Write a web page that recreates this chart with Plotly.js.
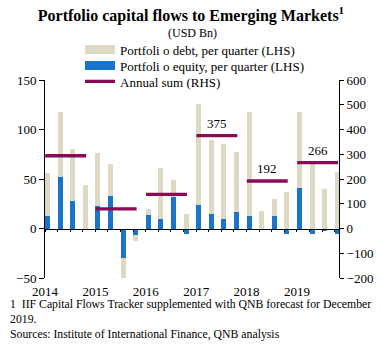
<!DOCTYPE html>
<html><head><meta charset="utf-8">
<script src="https://cdn.plot.ly/plotly-3.0.1.min.js"></script>
<style>html,body{margin:0;padding:0;background:#fff;}</style>
</head><body><div id="chart" style="width:382px;height:355px;"></div>
<script>
// ---- data (USD Bn) ----
const years = [2014, 2015, 2016, 2017, 2018, 2019];
const quartersPerYear = 4;
const equity = [13, 52, 28, -2, 23, 33, -30, -7, 14, 9.5, 32, -6, 24, 15, 10, 17, 13, -1, 12.5, -6, 41, -6, -2.5, -6];
const debt = [43, 66, 52, 44, 53, 32, -20, -6, 6, 52, 17, 14.5, 101.5, 74, 75, 60, 104.5, 18, 17.5, 37, 77, 65, 40, 57];
const annualSum = [294, 79, 138, 375, 192, 266];
const labelledYears = [2017, 2018, 2019];
const seriesNames = ['Portfoli o debt, per quarter (LHS)', 'Portfoli o equity, per quarter (LHS)', 'Annual sum (RHS)'];

// ---- styling ----
const FONT = '"Liberation Serif", "Times New Roman", serif';
const C_DEBT = '#ddd9c4', C_EQ = '#1a74c8', C_SUM = '#8a0a55';
const BAR_OFFSET = 0.2, BAR_W = 0.4, X_RANGE = [0, 23.34];
const LINE_START = 0.02, LINE_END = 3.27;

const nQ = years.length * quartersPerYear;
const qIdx = Array.from({length: nQ}, (_, i) => i);
const barX = qIdx.map(i => i + BAR_OFFSET);

const sumX = [], sumY = [];
years.forEach((y, k) => {
  sumX.push(k * quartersPerYear + LINE_START, k * quartersPerYear + LINE_END, null);
  sumY.push(annualSum[k], annualSum[k], null);
});

const traces = [
  {type: 'bar', x: barX, y: equity, width: BAR_W, marker: {color: C_EQ}, showlegend: false, name: seriesNames[1], hoverinfo: 'y'},
  {type: 'bar', x: barX, y: debt, width: BAR_W, marker: {color: C_DEBT}, showlegend: false, name: seriesNames[0], hoverinfo: 'y'},
  {type: 'scatter', mode: 'lines', x: sumX, y: sumY, xaxis: 'x2', yaxis: 'y2', line: {color: C_SUM, width: 3.3}, name: seriesNames[2], legend: 'legend3', connectgaps: false},
  {type: 'scatter', mode: 'lines', x: [null], y: [null], line: {color: C_DEBT, width: 9}, name: seriesNames[0], legend: 'legend'},
  {type: 'scatter', mode: 'lines', x: [null], y: [null], line: {color: C_EQ, width: 9}, name: seriesNames[1], legend: 'legend2'}
];

const noteFont = {family: FONT, size: 11.75, color: '#000'};
const annotations = [
  {text: '(USD Bn)', xref: 'paper', yref: 'paper', x: 0.5, y: 1.237, xanchor: 'center', yanchor: 'middle', showarrow: false, font: {family: FONT, size: 12, color: '#000'}},
  {text: '1  IIF Capital Flows Tracker supplemented with QNB forecast for December', xref: 'paper', yref: 'paper', x: -0.126, y: -0.135, xanchor: 'left', yanchor: 'middle', showarrow: false, font: noteFont},
  {text: '2019.', xref: 'paper', yref: 'paper', x: -0.126, y: -0.211, xanchor: 'left', yanchor: 'middle', showarrow: false, font: noteFont},
  {text: 'Sources: Institute of International Finance, QNB analysis', xref: 'paper', yref: 'paper', x: -0.126, y: -0.287, xanchor: 'left', yanchor: 'middle', showarrow: false, font: noteFont}
];
years.forEach((y, k) => {
  if (labelledYears.includes(y)) {
    annotations.push({text: String(annualSum[k]), xref: 'x2', yref: 'y2',
      x: k * quartersPerYear + (LINE_START + LINE_END) / 2, y: annualSum[k], yshift: 12,
      showarrow: false, font: {family: FONT, size: 13, color: '#000'}});
  }
});

const legendBase = {xref: 'container', yref: 'container', x: 80 / 382, xanchor: 'left', yanchor: 'top', bgcolor: 'rgba(0,0,0,0)', borderwidth: 0, itemwidth: 30, font: {family: FONT, size: 13, color: '#000'}};
const axisFont = {family: FONT, size: 13, color: '#000'};
const layout = {
  width: 382, height: 355,
  margin: {l: 45, r: 43, t: 80, b: 77, pad: 0, autoexpand: false},
  paper_bgcolor: '#fff', plot_bgcolor: 'rgba(0,0,0,0)',
  barmode: 'relative', bargap: 0,
  showlegend: true,
  font: {family: FONT, color: '#000'},
  title: {text: '<b>Portfolio capital flows to Emerging Markets<sup>1</sup></b>', x: 0.5, xref: 'container', xanchor: 'center', y: 1 - 15 / 355, yref: 'container', yanchor: 'middle', font: {family: FONT, size: 16, color: '#000'}},
  legend: Object.assign({}, legendBase, {y: 1 - 34.5 / 355}),
  legend2: Object.assign({}, legendBase, {y: 1 - 50.5 / 355}),
  legend3: Object.assign({}, legendBase, {y: 1 - 66.5 / 355}),
  xaxis: {range: X_RANGE, tickvals: years.map((y, k) => k * quartersPerYear), ticktext: years.map(String), ticks: 'outside', ticklen: 1, tickcolor: 'rgba(0,0,0,0)', showline: false, showgrid: false, zeroline: false, tickfont: axisFont, fixedrange: true},
  xaxis2: {range: X_RANGE, overlaying: 'x', anchor: 'free', position: 0.25, tickvals: qIdx, showticklabels: false, ticks: 'outside', ticklen: 2.5, tickcolor: '#000', showline: true, linecolor: '#000', linewidth: 1, showgrid: false, zeroline: false},
  xaxis3: {range: X_RANGE, overlaying: 'x', anchor: 'free', position: 0.25, tickvals: years.map((y, k) => k * quartersPerYear), showticklabels: false, ticks: 'inside', ticklen: 4, tickcolor: '#000', showline: false, showgrid: false, zeroline: false},
  yaxis: {range: [-50, 150], tickvals: [-50, 0, 50, 100, 150], ticks: 'outside', ticklen: 5, tickcolor: '#000', showline: true, linecolor: '#000', showgrid: false, zeroline: false, tickfont: axisFont},
  yaxis2: {range: [-200, 600], tickvals: [-200, -100, 0, 100, 200, 300, 400, 500, 600], overlaying: 'y', side: 'right', anchor: 'x', ticks: 'outside', ticklen: 4, tickcolor: '#000', showline: true, linecolor: '#000', showgrid: false, zeroline: false, tickfont: axisFont},
  annotations: annotations
};

Plotly.newPlot('chart', traces, layout, {staticPlot: true, displayModeBar: false});
</script></body></html>
